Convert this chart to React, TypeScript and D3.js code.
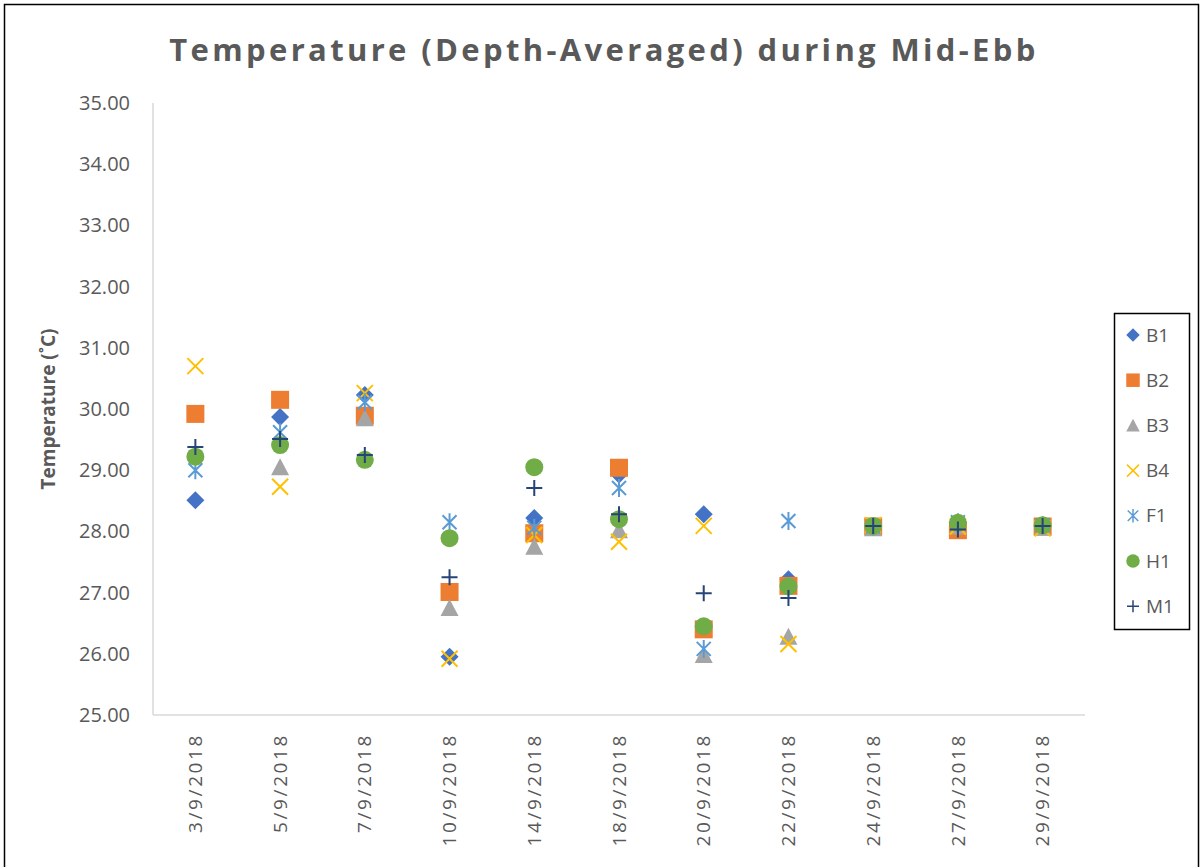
import React from "react";
import * as d3 from "d3";

const categories = ["3/9/2018","5/9/2018","7/9/2018","10/9/2018","14/9/2018","18/9/2018","20/9/2018","22/9/2018","24/9/2018","27/9/2018","29/9/2018"];
const B1 = [28.51, 29.87, 30.23, 25.95, 28.22, 28.93, 28.28, 27.22, 28.08, 28.1, 28.08];
const B2 = [29.92, 30.15, 29.89, 27.01, 27.97, 29.04, 26.40, 27.11, 28.08, 28.02, 28.08];
const B3: (number|null)[] = [null, 29.05, 29.85, 26.75, 27.75, 28.02, 25.98, 26.28, 28.05, 28.08, 28.06];
const B4 = [30.70, 28.73, 30.26, 25.92, 27.94, 27.83, 28.09, 26.16, 28.1, 28.08, 28.05];
const F1 = [29.00, 29.62, 30.11, 28.15, 28.06, 28.71, 26.08, 28.17, 28.08, 28.15, 28.1];
const H1 = [29.22, 29.41, 29.17, 27.89, 29.05, 28.20, 26.45, 27.10, 28.09, 28.14, 28.1];
const M1 = [29.38, 29.51, 29.25, 27.25, 28.71, 28.28, 26.99, 26.91, 28.09, 28.03, 28.09];
const yTicks = [25, 26, 27, 28, 29, 30, 31, 32, 33, 34, 35];

const series = [
  { name: "B1", values: B1, color: "#4472C4", shape: "diamond" },
  { name: "B2", values: B2, color: "#ED7D31", shape: "square" },
  { name: "B3", values: B3, color: "#A5A5A5", shape: "triangle" },
  { name: "B4", values: B4, color: "#FFC000", shape: "x" },
  { name: "F1", values: F1, color: "#5B9BD5", shape: "asterisk" },
  { name: "H1", values: H1, color: "#70AD47", shape: "circle" },
  { name: "M1", values: M1, color: "#264478", shape: "plus" },
];

function Marker({ shape, color, x, y, s = 1 }: { shape: string; color: string; x: number; y: number; s?: number }) {
  const t = `translate(${x},${y}) scale(${s})`;
  switch (shape) {
    case "diamond":
      return <path transform={t} d="M0,-9L9,0L0,9L-9,0Z" fill={color} />;
    case "square":
      return <rect transform={t} x={-9} y={-9} width={18} height={18} fill={color} />;
    case "triangle":
      return <path transform={t} d="M0,-9L9,8L-9,8Z" fill={color} />;
    case "circle":
      return <circle transform={t} r={9} fill={color} />;
    case "x":
      return <path transform={t} d="M-8,-8L8,8M-8,8L8,-8" stroke={color} strokeWidth={2} fill="none" />;
    case "asterisk":
      return <path transform={t} d="M-7,-7L7,7M-7,7L7,-7M0,-9L0,9" stroke={color} strokeWidth={2} fill="none" />;
    case "plus":
      return <path transform={t} d="M-8,0L8,0M0,-8L0,8" stroke={color} strokeWidth={2} fill="none" />;
  }
  return null;
}

export default function App() {
  const W = 1203, H = 867;
  const left = 153, right = 1085, top = 103, bottom = 715;
  const x = d3.scaleBand<string>().domain(categories).range([left, right]);
  const y = d3.scaleLinear().domain([25, 35]).range([bottom, top]);
  const font = "'Open Sans', 'DejaVu Sans', sans-serif";
  const legendItems = series.map((s, i) => ({ ...s, ly: 335 + i * 45.2 }));
  return (
    <div style={{ position: "absolute", left: 0, top: 0 }}>
      <svg width={W} height={H} style={{ display: "block", fontFamily: font }}>
        <rect x={0} y={0} width={W} height={H} fill="#fff" />
        <rect x={4.5} y={4.5} width={1194} height={880} fill="none" stroke="#000" strokeWidth={1.5} />
        <text x={604} y={61} textAnchor="middle" fontSize={31} fontWeight="bold" fill="#595959" letterSpacing={3.35}>
          Temperature (Depth-Averaged) during Mid-Ebb
        </text>
        <line x1={left} x2={left} y1={top} y2={bottom} stroke="#d9d9d9" strokeWidth={1.5} />
        <line x1={left} x2={right} y1={bottom} y2={bottom} stroke="#d9d9d9" strokeWidth={1.5} />
        {yTicks.map((t) => (
          <text key={t} x={130} y={y(t)} dy="0.35em" textAnchor="end" fontSize={20} fill="#595959">
            {t.toFixed(2)}
          </text>
        ))}
        <text transform={`translate(55,${(top + bottom) / 2}) rotate(-90)`} textAnchor="middle" fontSize={19} fontWeight="bold" fill="#595959">
          Temperature (˚C)
        </text>
        {categories.map((c) => {
          const cx = (x(c) as number) + x.bandwidth() / 2;
          return (
            <text key={c} transform={`translate(${cx},733) rotate(-90)`} textAnchor="end" dy="0.35em" fontSize={19} fill="#595959" letterSpacing={2.6}>
              {c}
            </text>
          );
        })}
        {series.map((s) => (
          <g key={s.name}>
            {s.values.map((v, i) =>
              v == null ? null : (
                <Marker key={i} shape={s.shape} color={s.color} x={(x(categories[i]) as number) + x.bandwidth() / 2} y={y(v)} />
              )
            )}
          </g>
        ))}
        <rect x={1114.5} y={313.5} width={75} height={316} fill="#fff" stroke="#000" strokeWidth={1.5} />
        {legendItems.map((s) => (
          <g key={s.name}>
            <Marker shape={s.shape} color={s.color} x={1133} y={s.ly} s={0.75} />
            <text x={1146} y={s.ly} dy="0.35em" fontSize={19} fill="#595959">{s.name}</text>
          </g>
        ))}
      </svg>
    </div>
  );
}
